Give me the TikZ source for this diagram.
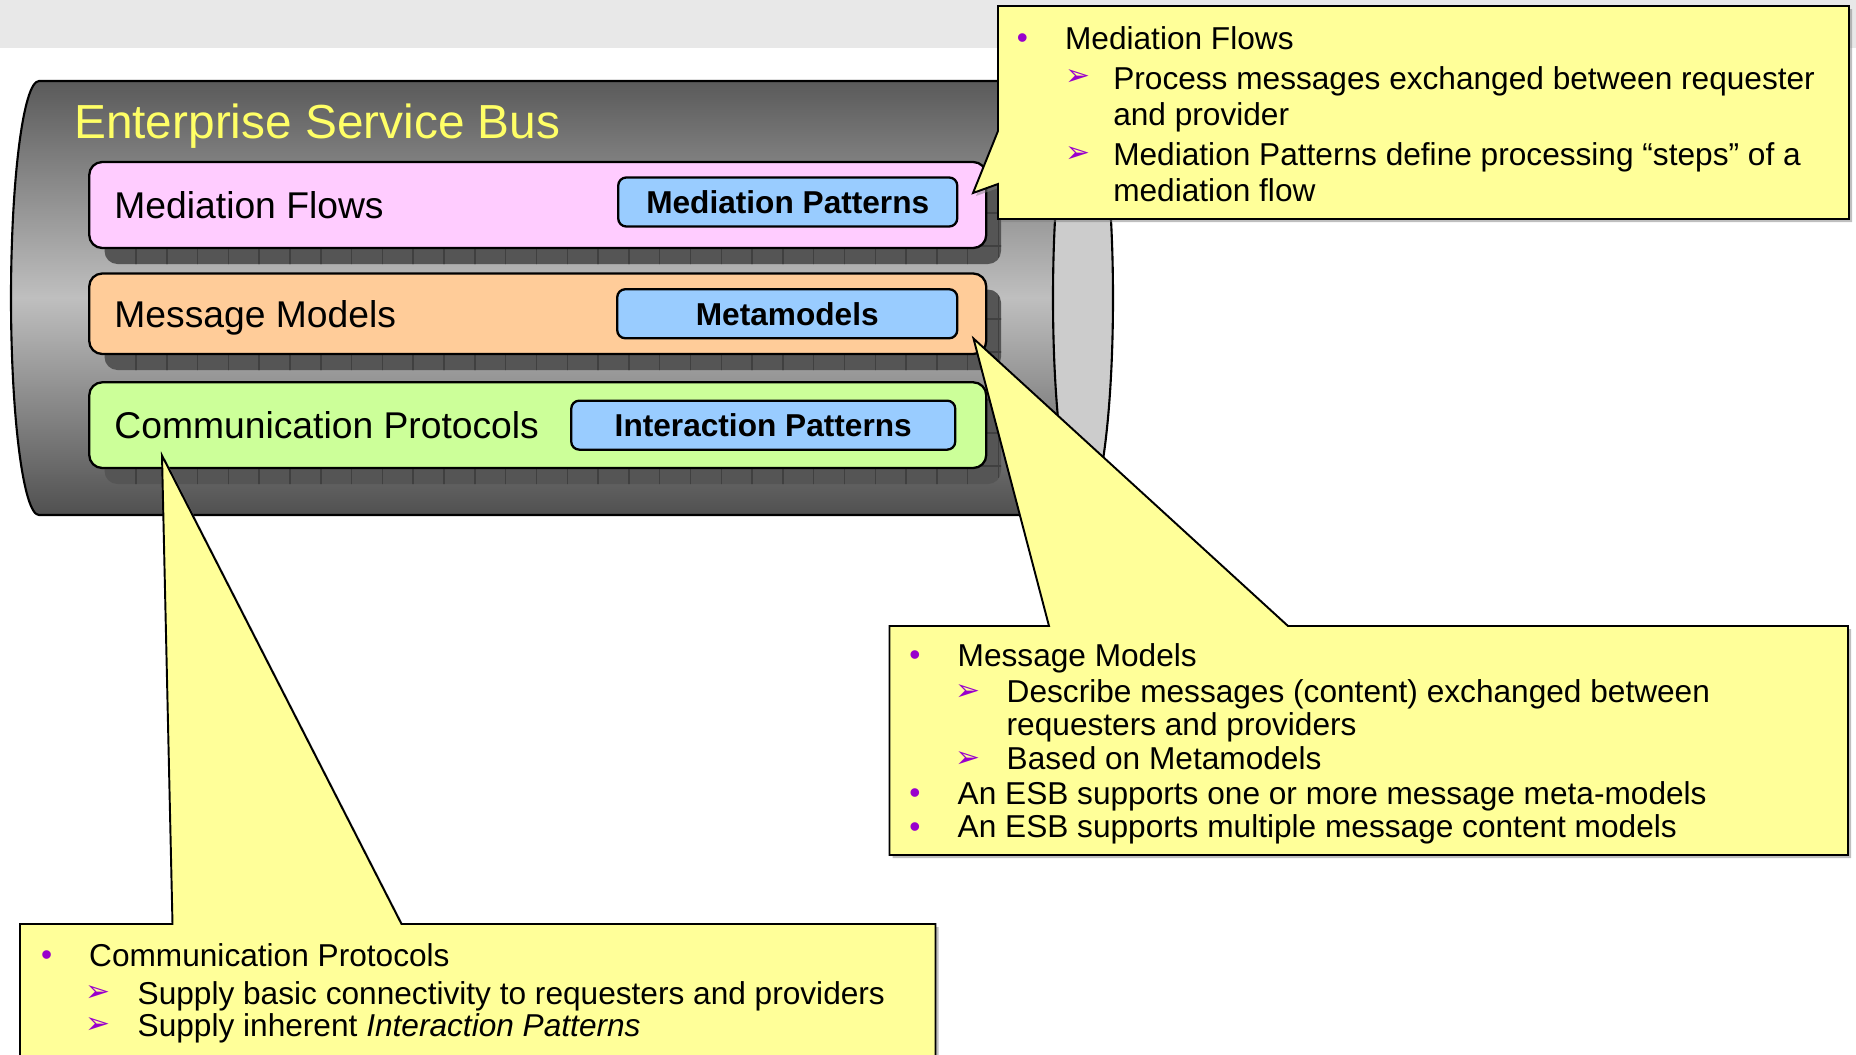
\documentclass[tikz,border=0pt]{standalone}
\usepackage{fontspec}
\setmainfont{Liberation Sans}
\newfontfamily\dejavu{DejaVu Sans}
\usepackage{tikz}
\usepackage{xcolor}
\usetikzlibrary{positioning,shadows}

\definecolor{bandgray}{HTML}{E8E8E8}
\definecolor{bustop}{HTML}{5A5A5A}
\definecolor{busmid}{HTML}{BFBFBF}
\definecolor{busbot}{HTML}{505050}
\definecolor{busface}{HTML}{CCCCCC}
\definecolor{flowpink}{HTML}{FFCCFF}
\definecolor{modelorange}{HTML}{FFCC99}
\definecolor{protogreen}{HTML}{CCFF99}
\definecolor{patblue}{HTML}{99CCFF}
\definecolor{noteyellow}{HTML}{FFFF99}
\definecolor{titleyellow}{HTML}{FFFF66}
\definecolor{bulpurple}{HTML}{9900CC}
\definecolor{shadowgray}{HTML}{555555}

\begin{document}
\begin{tikzpicture}[x=0.1mm, y=-0.1mm, >=stealth]
\tikzstyle{bar}=[rectangle, rounded corners=1.3mm, draw, line width=0.65pt, minimum width=89.7mm, inner sep=0pt, outer sep=0pt]
\tikzstyle{patbox}=[rectangle, rounded corners=0.8mm, draw, line width=0.65pt, fill=patblue, minimum height=4.9mm, inner sep=0pt, outer sep=0pt, font=\fontsize{9}{10}\selectfont\bfseries]
\tikzstyle{bartext}=[inner sep=0pt, font=\fontsize{10.6}{12}\selectfont, text height=7.6pt, text depth=0pt]
\tikzstyle{note}=[draw, line width=0.55pt, fill=noteyellow, drop shadow={shadow xshift=0.3mm, shadow yshift=-0.3mm, fill=black!50}]
\tikzstyle{notetext}=[anchor=west, inner sep=0pt, font=\fontsize{9}{10}\selectfont, text height=6.4pt, text depth=0pt]
\tikzstyle{bulletdot}=[inner sep=0pt, yshift=-0.3mm, text=bulpurple, font=\fontsize{9}{10}\selectfont]
\tikzstyle{bulletarrow}=[inner sep=0pt, text=bulpurple, font=\dejavu\fontsize{8.5}{9}\selectfont]
\useasboundingbox (0,0) rectangle (1856,1055);

% band and bus
\fill[bandgray] (0,0) rectangle (1856,48);
\shade[top color=bustop, bottom color=busbot, middle color=busmid, draw, line width=0.6pt]
  (39,81) -- (1083,81) -- (1083,515) -- (39,515) arc (90:270:28 and 217) -- cycle;
\draw[fill=busface, line width=0.6pt] (1083,298) ellipse [x radius=30, y radius=217];
\node[anchor=west, inner sep=0pt, text=titleyellow, font=\fontsize{13.6}{15}\selectfont, text height=9.7pt, text depth=0pt] (bustitle) at (73.5,121) {Enterprise Service Bus};

% grid shadows under the layers
\foreach \ytop/\ybot in {162/248, 273.5/354, 382.3/468}{
  \begin{scope}
    \clip[rounded corners=1.3mm] (104.5,\ytop+16) rectangle (1001,\ybot+16);
    \fill[shadowgray] (100,\ytop) rectangle (1005,\ybot+20);
    \foreach \gx in {136,166.8,...,1000} \draw[black!75, line width=0.4pt] (\gx,\ytop) -- (\gx,\ybot+20);
    \foreach \gy in {2,35,68} \draw[black!75, line width=0.4pt] (100,\ybot-\gy) -- (1005,\ybot-\gy);
  \end{scope}
}

% layers
\node[bar, fill=flowpink, minimum height=8.6mm] (flows) at (537.75,205) {};
\node[bar, fill=modelorange, minimum height=8.05mm, below=2.55mm of flows] (models) {};
\node[bar, fill=protogreen, minimum height=8.57mm, below=2.83mm of models] (protocols) {};
\node[bartext, right=2.45mm of flows.west] (flowslabel) {Mediation Flows};
\node[bartext, right=2.45mm of models.west] (modelslabel) {Message Models};
\node[bartext, right=2.45mm of protocols.west] (protocolslabel) {Communication Protocols};
\node[patbox, minimum width=33.9mm, left=2.9mm of flows.east, yshift=0.3mm] (medpat) {Mediation Patterns};
\node[patbox, minimum width=34mm, left=2.9mm of models.east] (metamod) {Metamodels};
\node[patbox, minimum width=38.4mm, left=3.1mm of protocols.east] (interpat) {Interaction Patterns};

% note on mediation flows
\draw[note] (998,6) -- (1849,6) -- (1849,219) -- (998,219) -- (998,184) -- (973,193) -- (998,131) -- cycle;
\node[bulletdot] (flowdot) at (1022.3,38.5) {•};
\node[notetext] (flowhead) at (1064.4,38.5) {Mediation Flows};
\foreach \y [count=\i] in {78,155} \node[bulletarrow] (flowarr\i) at (1078,\y) {➢};
\foreach \y/\txt [count=\i] in {77.8/{Process messages exchanged between requester}, 114.5/{and provider},
    154/{Mediation Patterns define processing “steps” of a}, 190.7/{mediation flow}}
  \node[notetext] (flowline\i) at (1112.6,\y) {\txt};

% note on message models
\draw[note] (889.5,626) -- (1049,626) -- (973.5,338.5) -- (1288,626) -- (1848,626) -- (1848,855) -- (889.5,855) -- cycle;
\foreach \y/\txt [count=\i] in {655/{Message Models}, 793.3/{An ESB supports one or more message meta-models},
    826.7/{An ESB supports multiple message content models}}{
  \node[bulletdot] (modeldot\i) at (915,\y) {•};
  \node[notetext] (modelhead\i) at (957,\y) {\txt};
}
\foreach \y [count=\i] in {692.7,760} \node[bulletarrow] (modelarr\i) at (968.3,\y) {➢};
\foreach \y/\txt [count=\i] in {690.8/{Describe messages (content) exchanged between}, 724.3/{requesters and providers},
    758.3/{Based on Metamodels}}
  \node[notetext] (modelline\i) at (1006,\y) {\txt};

% note on communication protocols
\draw[note] (20,924) -- (172.5,924) -- (162,455.5) -- (401.5,924) -- (935.5,924) -- (935.5,1070) -- (20,1070) -- cycle;
\node[bulletdot] (protodot) at (46.7,955) {•};
\node[notetext] (protohead) at (88.5,955) {Communication Protocols};
\foreach \y [count=\i] in {994,1026} \node[bulletarrow] (protoarr\i) at (98.3,\y) {➢};
\node[notetext] (protoline1) at (137,993.3) {Supply basic connectivity to requesters and providers};
\node[notetext] (protoline2) at (137,1025) {Supply inherent \textit{Interaction Patterns}};
\end{tikzpicture}
\end{document}
